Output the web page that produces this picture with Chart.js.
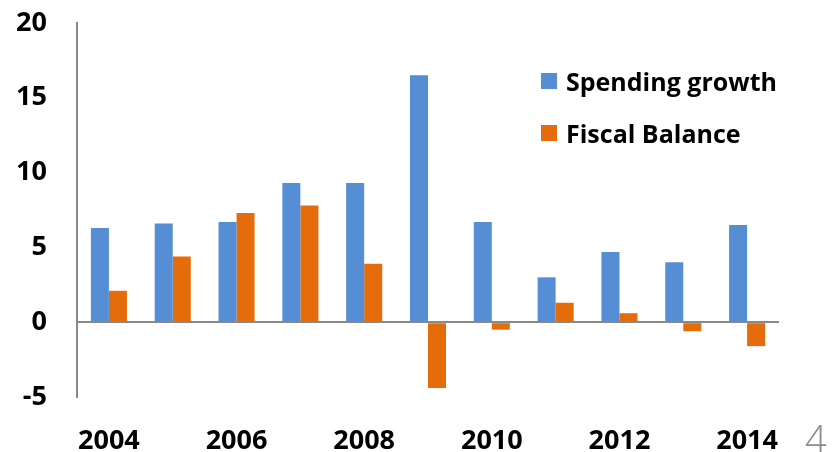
<!DOCTYPE html>
<html>
<head>
<meta charset="utf-8">
<script src="https://cdn.jsdelivr.net/npm/chart.js@4"></script>
<style>
  body { margin: 0; background: #fff; }
  #wrap { position: relative; width: 838px; height: 452px; overflow: hidden; }
  .key { position: absolute; left: 541px; font: bold 25px "Open Sans", sans-serif; color: #000; }
  .key i { position: absolute; left: 0; width: 16px; height: 16px; }
  .key span { position: absolute; left: 25px; white-space: nowrap; line-height: 30px; }
  #page { position: absolute; left: 805px; top: 412px; font: 300 38px "Open Sans", sans-serif; color: #8c8c8c; }
</style>
</head>
<body>
<div id="wrap">
  <canvas id="c" width="838" height="452"></canvas>
  <div class="key" style="top:73px"><i style="background:#558ED5"></i><span style="top:-7px">Spending growth</span></div>
  <div class="key" style="top:125px"><i style="background:#E46C0A"></i><span style="top:-7px">Fiscal Balance</span></div>
  <div id="page">4</div>
</div>
<script>
const years = ['2004', '2005', '2006', '2007', '2008', '2009', '2010', '2011', '2012', '2013', '2014'];
const spendingGrowth = [6.3, 6.6, 6.7, 9.3, 9.3, 16.5, 6.7, 3.0, 4.7, 4.0, 6.5];
const fiscalBalance = [2.1, 4.4, 7.3, 7.8, 3.9, -4.4, -0.5, 1.3, 0.6, -0.6, -1.6];

const axisGray = '#898989';
const tickFont = { family: 'Open Sans', size: 27, weight: 'bold' };

new Chart(document.getElementById('c'), {
  type: 'bar',
  data: {
    labels: years,
    datasets: [
      { label: 'Spending growth', data: spendingGrowth, backgroundColor: '#558ED5' },
      { label: 'Fiscal Balance', data: fiscalBalance, backgroundColor: '#E46C0A' }
    ]
  },
  options: {
    responsive: false,
    devicePixelRatio: 1,
    animation: false,
    categoryPercentage: 0.565,
    barPercentage: 1.0,
    layout: { padding: { top: 23, right: 59, bottom: 0, left: 0 } },
    plugins: { legend: { display: false }, tooltip: { enabled: false } },
    scales: {
      x: {
        offset: true,
        grid: { display: false },
        border: { display: false },
        ticks: {
          color: '#000',
          font: tickFont,
          autoSkip: false,
          maxRotation: 0,
          padding: 20,
          // only every other year gets a label
          callback: (val, i) => (i % 2 === 0 ? years[i] : '')
        },
        afterFit: (scale) => { scale.height = 55; }
      },
      y: {
        min: -5,
        max: 20,
        ticks: { stepSize: 5, color: '#000', font: tickFont, padding: 30 },
        grid: {
          drawTicks: false,
          lineWidth: 2,
          color: (ctx) => (ctx.tick && ctx.tick.value === 0 ? axisGray : 'transparent')
        },
        border: { color: axisGray, width: 2 },
        afterFit: (scale) => {
          scale.width = 77;
          // tick padding shouldn't push the plot area down
          scale.paddingTop = 0;
          scale.paddingBottom = 0;
        }
      }
    }
  }
});
</script>
</body>
</html>
